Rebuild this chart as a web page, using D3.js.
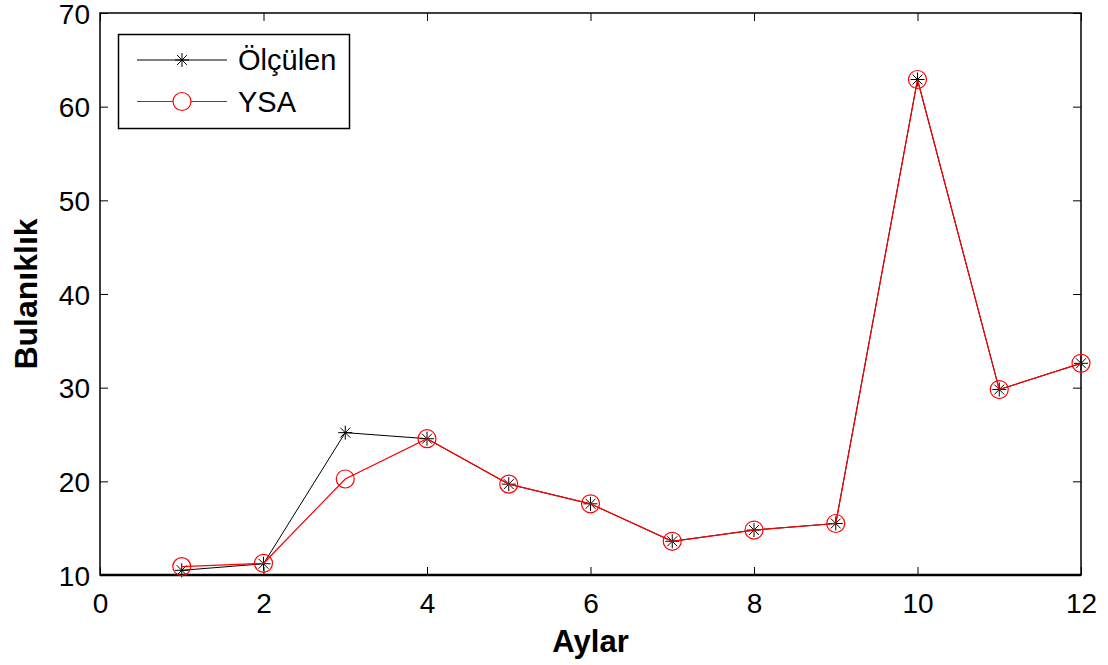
<!DOCTYPE html>
<html>
<head>
<meta charset="utf-8">
<script src="https://cdn.jsdelivr.net/npm/d3@7"></script>
<style>
  html, body { margin: 0; padding: 0; background: #fff; }
  svg { display: block; font-family: "Liberation Sans", Arial, sans-serif; }
</style>
</head>
<body>
<svg id="chart" width="1108" height="665"></svg>
<script>
// Monthly turbidity: measured values vs. ANN (YSA) predictions
const months = [1, 2, 3, 4, 5, 6, 7, 8, 9, 10, 11, 12];
const measured = [10.5, 11.2, 25.2, 24.55, 19.7, 17.6, 13.6, 14.8, 15.5, 62.9, 29.8, 32.6];
const predicted = [10.9, 11.25, 20.25, 24.55, 19.7, 17.6, 13.6, 14.8, 15.5, 62.9, 29.8, 32.6];
const xTicks = [0, 2, 4, 6, 8, 10, 12];
const yTicks = [10, 20, 30, 40, 50, 60, 70];
const seriesNames = ["Ölçülen", "YSA"];

const svg = d3.select("#chart");
const plotLeft = 100, plotRight = 1081, plotTop = 13, plotBottom = 575;

const x = d3.scaleLinear().domain([0, 12]).range([plotLeft, plotRight]);
const y = d3.scaleLinear().domain([10, 70]).range([plotBottom, plotTop]);

// Inward ticks on all four sides
const tickLen = 8;
const axB = d3.axisBottom(x).tickValues(xTicks).tickSize(-tickLen).tickPadding(18).tickFormat(d3.format("d"));
const axT = d3.axisTop(x).tickValues(xTicks).tickSize(-tickLen).tickFormat("");
const axL = d3.axisLeft(y).tickValues(yTicks).tickSize(-tickLen).tickPadding(10).tickFormat(d3.format("d"));
const axR = d3.axisRight(y).tickValues(yTicks).tickSize(-tickLen).tickFormat("");

function styleAxis(g) {
  g.select(".domain").remove();
  g.selectAll(".tick line").attr("stroke", "#000").attr("stroke-width", 1);
  g.selectAll(".tick text").attr("fill", "#000").style("font-size", "28px")
    .style("font-family", "'Liberation Sans', Arial, sans-serif");
}

svg.append("g").attr("transform", `translate(0,${plotBottom})`).call(axB).call(styleAxis);
svg.append("g").attr("transform", `translate(0,${plotTop})`).call(axT).call(styleAxis);
svg.append("g").attr("transform", `translate(${plotLeft},0)`).call(axL).call(styleAxis)
  .selectAll(".tick text").attr("dy", "0.36em");
svg.append("g").attr("transform", `translate(${plotRight},0)`).call(axR).call(styleAxis);

// Plot frame
svg.append("rect")
  .attr("x", plotLeft).attr("y", plotTop)
  .attr("width", plotRight - plotLeft).attr("height", plotBottom - plotTop)
  .attr("fill", "none").attr("stroke", "#000").attr("stroke-width", 1.5);
svg.append("line").attr("x1", plotLeft).attr("x2", plotRight).attr("y1", plotBottom).attr("y2", plotBottom)
  .attr("stroke", "#000").attr("stroke-width", 2.5);

const line = d3.line().x((d, i) => x(months[i])).y(d => y(d));

// Asterisk marker path centred at 0,0
function starPath(r) {
  const a = r * Math.SQRT1_2;
  return `M${-r},0L${r},0M0,${-r}L0,${r}M${-a},${-a}L${a},${a}M${-a},${a}L${a},${-a}`;
}

// Measured series (black, asterisks)
svg.append("path").datum(measured).attr("d", line)
  .attr("fill", "none").attr("stroke", "#000").attr("stroke-width", 1);
svg.append("g").selectAll("path").data(measured).join("path")
  .attr("transform", (d, i) => `translate(${x(months[i])},${y(d)})`)
  .attr("d", starPath(7)).attr("stroke", "#000").attr("stroke-width", 1).attr("fill", "none");

// Predicted series (red, open circles)
svg.append("path").datum(predicted).attr("d", line)
  .attr("fill", "none").attr("stroke", "#ff0000").attr("stroke-width", 1.2);
svg.append("g").selectAll("circle").data(predicted).join("circle")
  .attr("cx", (d, i) => x(months[i])).attr("cy", d => y(d)).attr("r", 9)
  .attr("fill", "none").attr("stroke", "#ff0000").attr("stroke-width", 1.2);

// Axis titles
svg.append("text").attr("x", (plotLeft + plotRight) / 2).attr("y", 652)
  .attr("text-anchor", "middle").style("font-size", "31px").style("font-weight", "bold")
  .text("Aylar");
svg.append("text").attr("transform", `translate(37,${(plotTop + plotBottom) / 2}) rotate(-90)`)
  .attr("text-anchor", "middle").style("font-size", "32px").style("font-weight", "bold")
  .text("Bulanıklık");

// Legend
const lg = svg.append("g");
lg.append("rect").attr("x", 118.5).attr("y", 34.5).attr("width", 231).attr("height", 94)
  .attr("fill", "#fff").attr("stroke", "#000").attr("stroke-width", 1.5);
const rows = [60, 101.5];
lg.append("line").attr("x1", 137).attr("x2", 227).attr("y1", rows[0]).attr("y2", rows[0])
  .attr("stroke", "#000").attr("stroke-width", 1);
lg.append("path").attr("transform", `translate(182,${rows[0]})`).attr("d", starPath(7))
  .attr("stroke", "#000").attr("fill", "none");
lg.append("line").attr("x1", 137).attr("x2", 227).attr("y1", rows[1]).attr("y2", rows[1])
  .attr("stroke", "#ff0000").attr("stroke-width", 1.2);
lg.append("circle").attr("cx", 182).attr("cy", rows[1]).attr("r", 9)
  .attr("fill", "#fff").attr("stroke", "#ff0000").attr("stroke-width", 1.2);
lg.selectAll("text.leg").data(seriesNames).join("text").attr("class", "leg")
  .attr("x", 238).attr("y", (d, i) => rows[i] + 10)
  .style("font-size", "29px").attr("fill", "#000").text(d => d);
</script>
</body>
</html>
